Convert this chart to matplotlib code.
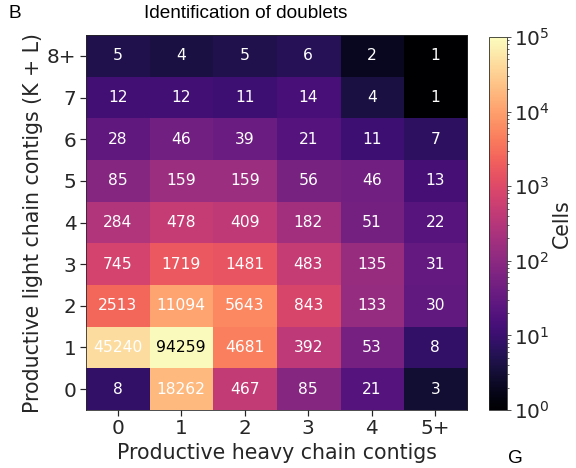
import numpy as np
import matplotlib
matplotlib.use("Agg")
import matplotlib.pyplot as plt
from matplotlib.colors import LogNorm

heavy_labels = ['0', '1', '2', '3', '4', '5+']
light_labels = ['0', '1', '2', '3', '4', '5', '6', '7', '8+']

# rows: light chain contigs 0..8+, columns: heavy chain contigs 0..5+
counts = [
    [8, 18262, 467, 85, 21, 3],
    [45240, 94259, 4681, 392, 53, 8],
    [2513, 11094, 5643, 843, 133, 30],
    [745, 1719, 1481, 483, 135, 31],
    [284, 478, 409, 182, 51, 22],
    [85, 159, 159, 56, 46, 13],
    [28, 46, 39, 21, 11, 7],
    [12, 12, 11, 14, 4, 1],
    [5, 4, 5, 6, 2, 1],
]

data = np.array(counts, dtype=float)

fig = plt.figure(figsize=(8, 6.5), dpi=72)
ax = fig.add_axes([0.149, 0.124, 0.662, 0.801])
cax = fig.add_axes([0.849, 0.124, 0.031, 0.797])

norm = LogNorm(vmin=1, vmax=1e5)
im = ax.imshow(data, cmap='magma', norm=norm, origin='lower', aspect='auto')

for i in range(data.shape[0]):
    for j in range(data.shape[1]):
        v = data[i, j]
        color = 'black' if v > 5e4 else 'white'
        ax.text(j, i, '%d' % v, ha='center', va='center', color=color, fontsize=15.5)

ax.set_xticks(range(len(heavy_labels)))
ax.set_xticklabels(heavy_labels)
ax.set_yticks(range(len(light_labels)))
ax.set_yticklabels(light_labels)
ax.tick_params(labelsize=20, colors='#262626', length=6, width=1.2)
ax.set_xlabel('Productive heavy chain contigs', fontsize=20.5, color='#262626', labelpad=5)
ax.set_ylabel('Productive light chain contigs (K + L)', fontsize=20.5, color='#262626')
for s in ax.spines.values():
    s.set_color('#262626')

cb = fig.colorbar(im, cax=cax)
cb.ax.tick_params(labelsize=20, colors='#262626')
cb.set_label('Cells', fontsize=20.5, color='#262626', labelpad=2)
cb.outline.set_edgecolor('#262626')

fig.text(246 / 576, 1 - 13 / 468, 'Identification of doublets', ha='center', va='center',
         fontsize=19, family='Liberation Sans')
fig.text(8 / 576, 1 - 13 / 468, 'B', ha='left', va='center', fontsize=19, family='Liberation Sans')
fig.text(515 / 576, 0.002, 'G', ha='center', va='bottom', fontsize=19,
         family='Liberation Sans')

plt.savefig('out.png', dpi=72)
